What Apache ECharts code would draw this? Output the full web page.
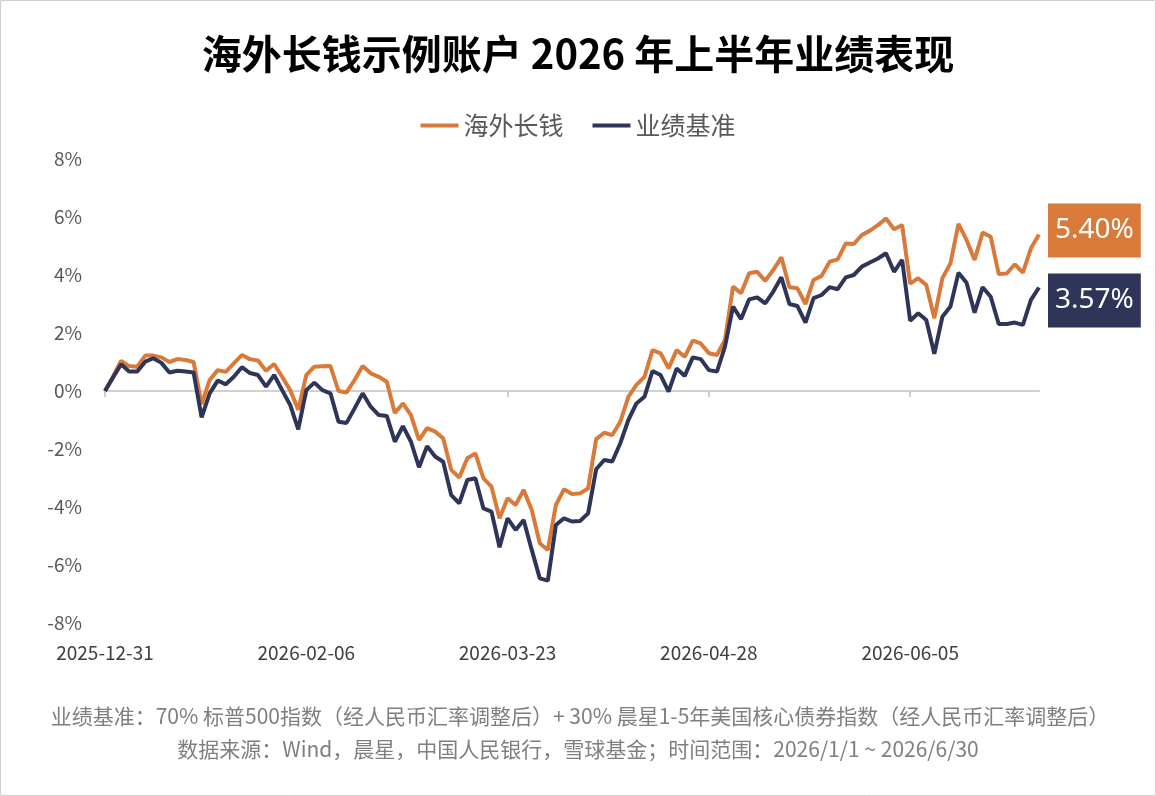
<!DOCTYPE html>
<html>
<head>
<meta charset="utf-8">
<script src="https://cdn.jsdelivr.net/npm/echarts@6/dist/echarts.min.js"></script>
<style>
html,body{margin:0;padding:0;background:#fff;}
#chart{width:1156px;height:796px;}
</style>
</head>
<body>
<div id="chart"></div>
<script>
const dates = [
'2025-12-31',
'2026-01-05','2026-01-06','2026-01-07','2026-01-08','2026-01-09',
'2026-01-12','2026-01-13','2026-01-14','2026-01-15','2026-01-16',
'2026-01-19','2026-01-20','2026-01-21','2026-01-22','2026-01-23',
'2026-01-26','2026-01-27','2026-01-28','2026-01-29','2026-01-30',
'2026-02-02','2026-02-03','2026-02-04','2026-02-05','2026-02-06',
'2026-02-09','2026-02-10','2026-02-11','2026-02-12','2026-02-13',
'2026-02-24','2026-02-25','2026-02-26','2026-02-27',
'2026-03-02','2026-03-03','2026-03-04','2026-03-05','2026-03-06',
'2026-03-09','2026-03-10','2026-03-11','2026-03-12','2026-03-13',
'2026-03-16','2026-03-17','2026-03-18','2026-03-19','2026-03-20',
'2026-03-23','2026-03-24','2026-03-25','2026-03-26','2026-03-27',
'2026-03-30','2026-03-31','2026-04-01','2026-04-02','2026-04-03',
'2026-04-07','2026-04-08','2026-04-09','2026-04-10',
'2026-04-13','2026-04-14','2026-04-15','2026-04-16','2026-04-17',
'2026-04-20','2026-04-21','2026-04-22','2026-04-23','2026-04-24',
'2026-04-27','2026-04-28','2026-04-29','2026-04-30',
'2026-05-06','2026-05-07','2026-05-08',
'2026-05-11','2026-05-12','2026-05-13','2026-05-14','2026-05-15',
'2026-05-18','2026-05-19','2026-05-20','2026-05-21','2026-05-22',
'2026-05-25','2026-05-26','2026-05-27','2026-05-28','2026-05-29',
'2026-06-01','2026-06-02','2026-06-03','2026-06-04','2026-06-05',
'2026-06-08','2026-06-09','2026-06-10','2026-06-11','2026-06-12',
'2026-06-15','2026-06-16','2026-06-17','2026-06-18',
'2026-06-22','2026-06-23','2026-06-24','2026-06-25','2026-06-26',
'2026-06-29','2026-06-30'
];

const haiwai = [
0,0.5,1.04,0.86,0.84,1.22,1.22,1.16,1.0,1.1,
1.07,1.0,-0.45,0.38,0.72,0.66,0.95,1.24,1.1,1.05,
0.7,0.93,0.49,0.03,-0.65,0.55,0.84,0.85,0.86,0.0,
-0.05,0.38,0.86,0.61,0.49,0.32,-0.76,-0.43,-0.83,-1.69,
-1.28,-1.40,-1.63,-2.72,-2.98,-2.32,-2.15,-3.01,-3.30,-4.39,
-3.70,-3.93,-3.41,-4.10,-5.25,-5.48,-3.93,-3.39,-3.55,-3.53,
-3.36,-1.66,-1.44,-1.52,-1.06,-0.2,0.21,0.49,1.41,1.3,
0.78,1.41,1.18,1.74,1.64,1.3,1.24,1.76,3.6,3.37,
4.06,4.11,3.8,4.17,4.61,3.58,3.54,3.0,3.83,3.97,
4.46,4.54,5.09,5.07,5.38,5.53,5.72,5.95,5.58,5.72,
3.7,3.89,3.66,2.51,3.89,4.4,5.76,5.21,4.52,5.46,
5.32,4.03,4.05,4.37,4.08,4.92,5.40
];

const benchmark = [
0,0.47,0.92,0.67,0.67,1.01,1.13,0.97,0.64,0.7,
0.67,0.64,-0.91,-0.08,0.36,0.23,0.49,0.82,0.62,0.55,
0.15,0.55,0.03,-0.48,-1.32,0.03,0.29,0.03,-0.08,-1.06,
-1.1,-0.6,-0.08,-0.54,-0.83,-0.86,-1.75,-1.21,-1.75,-2.63,
-1.9,-2.26,-2.44,-3.59,-3.87,-3.07,-3.01,-4.05,-4.16,-5.39,
-4.39,-4.79,-4.45,-5.48,-6.46,-6.54,-4.62,-4.39,-4.5,-4.48,
-4.22,-2.7,-2.38,-2.43,-1.8,-1.0,-0.43,-0.2,0.69,0.55,
-0.02,0.78,0.52,1.16,1.1,0.72,0.67,1.53,2.91,2.48,
3.16,3.23,3.02,3.43,3.92,3.0,2.93,2.36,3.2,3.31,
3.58,3.51,3.92,4.0,4.29,4.43,4.57,4.75,4.11,4.52,
2.42,2.68,2.45,1.28,2.56,2.91,4.08,3.73,2.7,3.58,
3.25,2.31,2.31,2.36,2.28,3.14,3.57
];

const seriesNames = ['海外长钱', '业绩基准'];
const titleText = '海外长钱示例账户 2026 年上半年业绩表现';
const footLine1 = '业绩基准：70% 标普500指数（经人民币汇率调整后）+ 30% 晨星1-5年美国核心债券指数（经人民币汇率调整后）';
const footLine2 = '数据来源：Wind，晨星，中国人民银行，雪球基金；时间范围：2026/1/1 ~ 2026/6/30';

const ORANGE = '#D97A3A';
const NAVY = '#2E3558';
const FONT = '"Noto Sans CJK SC", "Noto Sans", sans-serif';

const chart = echarts.init(document.getElementById('chart'));

function endLabel(color, dy) {
  return {
    show: true,
    distance: 9,
    offset: [0, dy],
    formatter: p => Number(p.value).toFixed(2) + '%',
    color: '#fff',
    backgroundColor: color,
    fontSize: 28,
    fontFamily: '"Noto Sans", sans-serif',
    lineHeight: 32,
    padding: [11, 7, 11, 7]
  };
}

chart.setOption({
  backgroundColor: '#fff',
  animation: false,
  textStyle: { fontFamily: FONT },
  title: {
    text: titleText,
    left: 'center',
    top: 29,
    textStyle: { fontSize: 40, fontWeight: 'bold', color: '#000', fontFamily: FONT }
  },
  legend: {
    top: 108,
    left: 'center',
    icon: 'rect',
    itemWidth: 38,
    itemHeight: 4,
    itemGap: 29,
    textStyle: { fontSize: 25, color: '#595959', fontFamily: FONT },
    data: seriesNames
  },
  grid: { left: 105, right: 117, top: 159, bottom: 173, containLabel: false },
  xAxis: [
    {
      type: 'category',
      data: dates,
      boundaryGap: false,
      position: 'bottom',
      axisLine: { show: false, onZero: false },
      axisTick: { show: false },
      axisLabel: {
        interval: 24,
        margin: 20,
        fontSize: 19,
        color: '#404040',
        fontFamily: FONT
      },
      splitLine: { show: false }
    },
    {
      type: 'category',
      data: dates,
      boundaryGap: false,
      position: 'bottom',
      axisLine: { show: true, onZero: true, lineStyle: { color: '#D0D0D0', width: 2 } },
      axisTick: { show: true, interval: 24, length: 6, lineStyle: { color: '#D0D0D0', width: 2 } },
      axisLabel: { show: false },
      splitLine: { show: false }
    }
  ],
  yAxis: {
    type: 'value',
    min: -8,
    max: 8,
    interval: 2,
    axisLine: { show: false },
    axisTick: { show: false },
    splitLine: { show: false },
    axisLabel: {
      formatter: '{value}%',
      margin: 23,
      fontSize: 19,
      color: '#595959',
      fontFamily: FONT
    }
  },
  series: [
    {
      name: seriesNames[0],
      type: 'line',
      data: haiwai,
      symbol: 'none',
      color: ORANGE,
      lineStyle: { width: 4, color: ORANGE },
      endLabel: endLabel(ORANGE, -4)
    },
    {
      name: seriesNames[1],
      type: 'line',
      data: benchmark,
      symbol: 'none',
      color: NAVY,
      lineStyle: { width: 4, color: NAVY },
      endLabel: endLabel(NAVY, 13)
    }
  ],
  graphic: [
    {
      type: 'rect',
      shape: { x: 0.5, y: 0.5, width: 1155, height: 795 },
      style: { fill: null, stroke: '#D0D0D0', lineWidth: 1 },
      silent: true
    },
    {
      type: 'text',
      x: 580, y: 716,
      style: { text: footLine1, fill: '#7F7F7F', fontSize: 21, fontFamily: FONT, textAlign: 'center', textVerticalAlign: 'middle' }
    },
    {
      type: 'text',
      x: 578, y: 749,
      style: { text: footLine2, fill: '#7F7F7F', fontSize: 21, fontFamily: FONT, textAlign: 'center', textVerticalAlign: 'middle' }
    }
  ]
});
</script>
</body>
</html>
